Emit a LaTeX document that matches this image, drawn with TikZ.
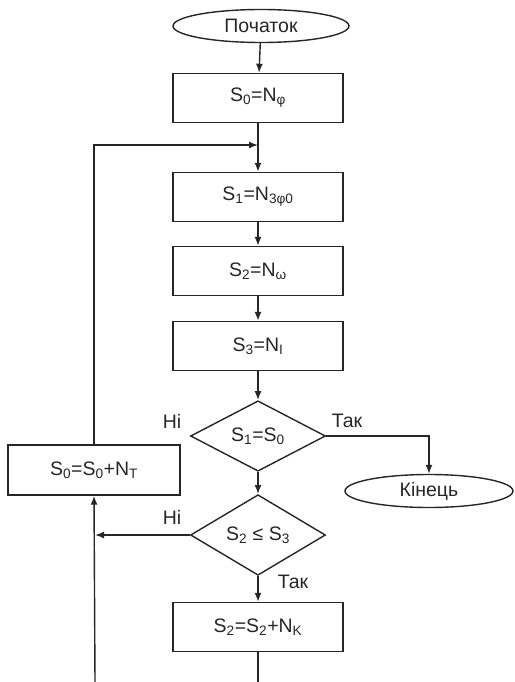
\documentclass[tikz,border=0pt]{standalone}
\usepackage{fontspec}
\setmainfont{Liberation Sans}
\usetikzlibrary{shapes.geometric,arrows.meta,positioning}

\tikzset{
  term/.style = {draw, shape = ellipse, minimum width = 176pt, minimum height = 33pt, inner sep = 0pt},
  op/.style = {draw, shape = rectangle, minimum width = 170pt, minimum height = 49pt, inner sep = 0pt},
  test/.style = {draw, shape = diamond, minimum width = 135pt, minimum height = 67pt, inner sep = 0pt},
  link/.style = {-{Latex[length = 9pt, width = 7pt]}}
}

\begin{document}
\begin{tikzpicture}[x = 1pt, y = -1pt, line width = 1.4pt, color = black!85, font = \fontsize{19.5}{22}\selectfont]
\useasboundingbox (0,0) rectangle (514,682);
\node[term] (1) at (261,26) {Початок};
\node[op] (2) at (258,98) {S\textsubscript{0}=N\textsubscript{φ}};
\node[op] (3) at (258,197) {S\textsubscript{1}=N\textsubscript{3φ0}};
\node[op] (4) at (258,271) {S\textsubscript{2}=N\textsubscript{ω}};
\node[op] (5) at (258,346) {S\textsubscript{3}=N\textsubscript{I}};
\node[test] (6) at (258,436) {S\textsubscript{1}=S\textsubscript{0}};
\node[term, minimum width = 168pt] (7) at (429,491) {Кінець};
\node[test] (8) at (258,535) {S\textsubscript{2} ≤ S\textsubscript{3}};
\node[op] (9) at (258,627) {S\textsubscript{2}=S\textsubscript{2}+N\textsubscript{K}};
\node[op, minimum width = 172pt, minimum height = 50pt] (10) at (94,470) {S\textsubscript{0}=S\textsubscript{0}+N\textsubscript{T}};
\coordinate (11) at (258,145);
\coordinate (12) at (95,535);
\coordinate (13) at (258,682);
\coordinate (14) at (95,682);

\draw[link] (1) -- (2);
\draw[link] (2) -- (3);
\draw[link] (3) -- (4);
\draw[link] (4) -- (5);
\draw[link] (5) -- (6);
\draw[link] (6) -- (8);
\draw[link] (8) -- (9);
\draw[link] (6.east) -| (7.north);
\draw[link] (8.west) -- (12);
\draw[link] (10.north) |- (11);
\draw (9) -- (13);
\draw[link] (14) -- (10.south);

\begin{scope}[nodes = {draw = none}]
\node (15) at (172,421) {Ні};
\node (16) at (347,421) {Так};
\node (17) at (172,517) {Ні};
\node (18) at (293,582) {Так};
\end{scope}
\end{tikzpicture}
\end{document}
